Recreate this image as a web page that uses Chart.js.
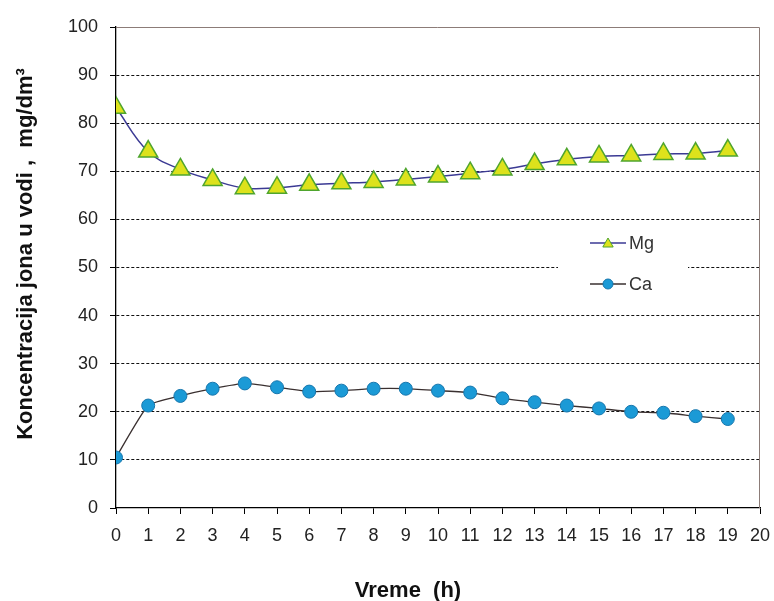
<!DOCTYPE html>
<html>
<head>
<meta charset="utf-8">
<script src="https://cdn.jsdelivr.net/npm/chart.js@4"></script>
<style>
    body { margin: 0; background: #fff; }
    #wrap { width: 774px; height: 601px; }
</style>
</head>
<body>
<div id="wrap"><canvas id="ionChart" width="774" height="601"></canvas></div>
<script>

const hours = [0, 1, 2, 3, 4, 5, 6, 7, 8, 9, 10, 11, 12, 13, 14, 15, 16, 17, 18, 19];
const mg = [83.2, 74.1, 70.4, 68.2, 66.5, 66.6, 67.2, 67.5, 67.8, 68.3, 68.9, 69.6, 70.4, 71.5, 72.5, 73.1, 73.3, 73.6, 73.7, 74.3];
const ca = [10.5, 21.3, 23.3, 24.8, 25.9, 25.1, 24.2, 24.4, 24.8, 24.8, 24.4, 24.0, 22.8, 22.0, 21.3, 20.7, 20.0, 19.8, 19.1, 18.5];
const seriesNames = ["Mg", "Ca"];

const xTitle = "Vreme  (h)";
const yTitle = "Koncentracija jona u vodi ,  mg/dm³";

const FONT = "'Liberation Sans', Arial, sans-serif";

function toPoints(values) {
    return hours.map((h, i) => ({ x: h, y: values[i] }));
}

// frame (top + right), axis titles and the in-plot legend
const extras = {
    id: "extras",
    beforeDatasetsDraw(chart) {
        const { ctx, chartArea: a } = chart;
        ctx.save();
        ctx.strokeStyle = "#8c7c78";
        ctx.lineWidth = 1;
        ctx.beginPath();
        ctx.moveTo(a.left, a.top + 0.5);
        ctx.lineTo(a.right - 0.5, a.top + 0.5);
        ctx.lineTo(a.right - 0.5, a.bottom);
        ctx.stroke();

        // legend box (white, hides the grid behind it)
        ctx.fillStyle = "#fff";
        ctx.fillRect(558, 236, 130, 64);
        ctx.restore();
    },
    afterDraw(chart) {
        const { ctx } = chart;
        ctx.save();
        ctx.fillStyle = "#111";
        ctx.font = "bold 22px " + FONT;
        ctx.textAlign = "center";
        ctx.textBaseline = "alphabetic";
        ctx.fillText(xTitle, 408, 597);

        ctx.translate(32, 254);
        ctx.rotate(-Math.PI / 2);
        ctx.fillText(yTitle, 0, 0);
        ctx.restore();

        // legend entries
        const rows = [243, 284];
        chart.data.datasets.forEach((ds, i) => {
            const y = rows[i];
            ctx.save();
            ctx.strokeStyle = ds.borderColor;
            ctx.lineWidth = 1.5;
            ctx.beginPath();
            ctx.moveTo(590, y);
            ctx.lineTo(626, y);
            ctx.stroke();
            ctx.fillStyle = ds.pointBackgroundColor;
            ctx.strokeStyle = ds.pointBorderColor;
            ctx.lineWidth = 1;
            Chart.helpers.drawPoint(ctx, {
                pointStyle: ds.pointStyle,
                radius: i === 0 ? 6 : 5,
                rotation: 0,
                borderWidth: 1
            }, 608, i === 0 ? y + 1 : y);
            ctx.fillStyle = "#333";
            ctx.font = "18px " + FONT;
            ctx.textAlign = "left";
            ctx.textBaseline = "middle";
            ctx.fillText(ds.label, 629, y + 1);
            ctx.restore();
        });
    }
};

new Chart(document.querySelector("#ionChart"), {
    type: "line",
    data: {
        datasets: [
            {
                label: seriesNames[0],
                data: toPoints(mg),
                borderColor: "#3b3a94",
                borderWidth: 1.5,
                tension: 0.4,
                pointStyle: "triangle",
                pointRadius: 11,
                pointBackgroundColor: "#dde21c",
                pointBorderColor: "#4fa52e",
                pointBorderWidth: 1.5
            },
            {
                label: seriesNames[1],
                data: toPoints(ca),
                borderColor: "#3a3030",
                borderWidth: 1.3,
                tension: 0.15,
                pointStyle: "circle",
                pointRadius: 6.5,
                pointBackgroundColor: "#1b9ad6",
                pointBorderColor: "#1676ad",
                pointBorderWidth: 1
            }
        ]
    },
    options: {
        responsive: false,
        animation: false,
        layout: { padding: { top: 27, right: 14, bottom: 0, left: 0 } },
        plugins: {
            legend: { display: false },
            tooltip: { enabled: false }
        },
        scales: {
            x: {
                type: "linear",
                min: 0,
                max: 20,
                afterFit: s => {
                    s.height = 93;
                    s.paddingRight = 4;
                    s.paddingLeft = 4;
                },
                ticks: {
                    stepSize: 1,
                    padding: 11,
                    color: "#222",
                    font: { size: 18, family: FONT }
                },
                grid: {
                    drawOnChartArea: false,
                    drawTicks: true,
                    tickLength: 6,
                    tickColor: "#000",
                    color: "#000"
                },
                border: { color: "#000", width: 1.3 }
            },
            y: {
                min: 0,
                max: 100,
                afterFit: s => { s.width = 116; },
                ticks: {
                    stepSize: 10,
                    padding: 12,
                    color: "#222",
                    font: { size: 18, family: FONT }
                },
                grid: {
                    color: c => (c.tick.value === 0 || c.tick.value === 100) ? "rgba(0,0,0,0)" : "#111",
                    lineWidth: 1,
                    tickLength: 6,
                    tickColor: "#000"
                },
                border: { color: "#000", width: 1.3, dash: [3, 2] }
            }
        }
    },
    plugins: [extras]
});
</script>
</body>
</html>
